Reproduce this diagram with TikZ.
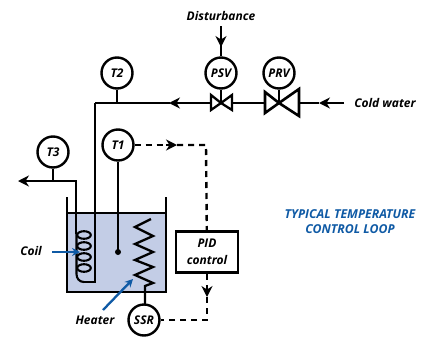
\documentclass[tikz,border=0pt]{standalone}
\usepackage{fontspec}
\setmainfont{Open Sans}
\usetikzlibrary{arrows.meta,calc}
\definecolor{tank}{RGB}{195,205,230}
\definecolor{lblue}{RGB}{15,90,165}
\tikzset{
  x=1pt,y=-1pt,
  gauge/.style={circle,draw=black,line width=2.4pt,fill=white,minimum size=31pt,inner sep=0pt,font=\bfseries\itshape\fontsize{12}{13}\selectfont},
  pipe/.style={line width=2.9pt,draw=black},
  wall/.style={line width=2.3pt,draw=black},
  sig/.style={line width=2.4pt,draw=black,dash pattern=on 6pt off 5pt},
  lbl/.style={font=\bfseries\itshape\fontsize{12}{14}\selectfont,inner sep=0pt,align=center},
  flow/.style={-{Stealth[length=11pt,width=11pt]}},
  callout/.style={draw=lblue,line width=2.3pt,-{Stealth[length=8pt,width=8pt]}}
}
\begin{document}
\begin{tikzpicture}
\useasboundingbox (0,0) rectangle (429,338);
% tank
\fill[tank] (67,213) rectangle (166,292);
\draw[wall] (67,197) -- (67,292) -- (166,292) -- (166,197);
\draw[wall,line width=1.7pt] (67,213) -- (166,213);
% nodes
\node[gauge] (T3) at (53,152) {T3};
\node[gauge] (T1) at (118,145) {T1};
\node[gauge] (T2) at (117,73) {T2};
\node[gauge] (PSV) at (221,73) {PSV};
\node[gauge] (PRV) at (279,73) {PRV};
\node[gauge] (SSR) at (144,320) {SSR};
\node[draw=black,line width=2.8pt,fill=white,minimum width=62pt,minimum height=41pt,font=\bfseries\itshape\fontsize{12}{17}\selectfont,align=center,inner sep=0pt] (PID) at (207,252) {PID\\control};
% coordinates
\coordinate (water) at (344,103);
\coordinate (prvc) at (279,103);
\coordinate (psvc) at (221,103);
\coordinate (corner) at (95,103);
\coordinate (coilend) at (95,282);
\coordinate (out) at (18,181);
% valves
\draw[wall,line width=2.6pt,fill=white] (prvc) -- (265,92) -- (265,113) -- (prvc) -- (299,89) -- (299,116) -- cycle;
\draw[wall,fill=white] (psvc) -- (211,95) -- (211,110) -- cycle;
\draw[wall,fill=white] (psvc) -- (232,95) -- (232,110) -- cycle;
% pipe
\draw[pipe,flow] (water) -- (319,103);
\draw[pipe] (319,103) -- (299,103);
\draw[pipe] (265,103) -- (232,103);
\draw[pipe,flow] (211,103) -- (169,103);
\draw[pipe] (170,103) -- (corner);
\draw[wall] (corner) -- (coilend) -- (84,282);
\draw[wall] (T2) -- (117,103);
\draw[wall] (PSV) -- (psvc);
\draw[wall] (PRV) -- (prvc);
% disturbance
\node[lbl] (dist) at (221,16) {Disturbance};
\coordinate (distTop) at (221,26);
\draw[wall,flow] (distTop) -- (221,47);
\draw[wall] (221,44) -- (PSV);
% outlet
\draw[wall,flow] (76,234) -- (76,181) -- (out);
\draw[wall] (T3) -- (53,181);
% coil
\foreach \y in {235,246,257,268}{
  \draw[line width=2.1pt] (84,\y) ellipse [x radius=6.8,y radius=3.8];
}
\draw[line width=2.1pt] (84,282) .. controls (79,282) and (76.5,278) .. (76.5,274) -- (76.5,234);
% T1 probe
\draw[wall] (T1) -- (118,252);
\fill (118,252) circle (3);
% heater
\draw[line width=2.3pt,line join=miter] (151,219) -- (135,227) -- (153,236) -- (135,244) -- (153,252) -- (135,260) -- (153,267) -- (135,275) -- (153,283) -- (145,286) -- (145,304);
% signal
\draw[sig] (T1) -- (172,145);
\draw[wall,flow] (166,145) -- (177,145);
\draw[sig] (177,145) -- (206,145) -- (PID);
\draw[sig] (PID) -- (207,292);
\draw[wall,flow] (207,285) -- (207,297);
\draw[sig] (207,297) -- (207,320) -- (SSR);
% callouts
\node[lbl] (coil) at (31,251) {Coil};
\draw[callout] (52,252) -- (80,252);
\node[lbl] (heater) at (95,320) {Heater};
\draw[callout] (103,310) -- (133,279);
\node[lbl,text=lblue,font=\bfseries\itshape\fontsize{12.3}{15}\selectfont] (title) at (350,222) {TYPICAL TEMPERATURE\\CONTROL LOOP};
\node[lbl] (cold) at (385,103) {Cold water};
\end{tikzpicture}
\end{document}
